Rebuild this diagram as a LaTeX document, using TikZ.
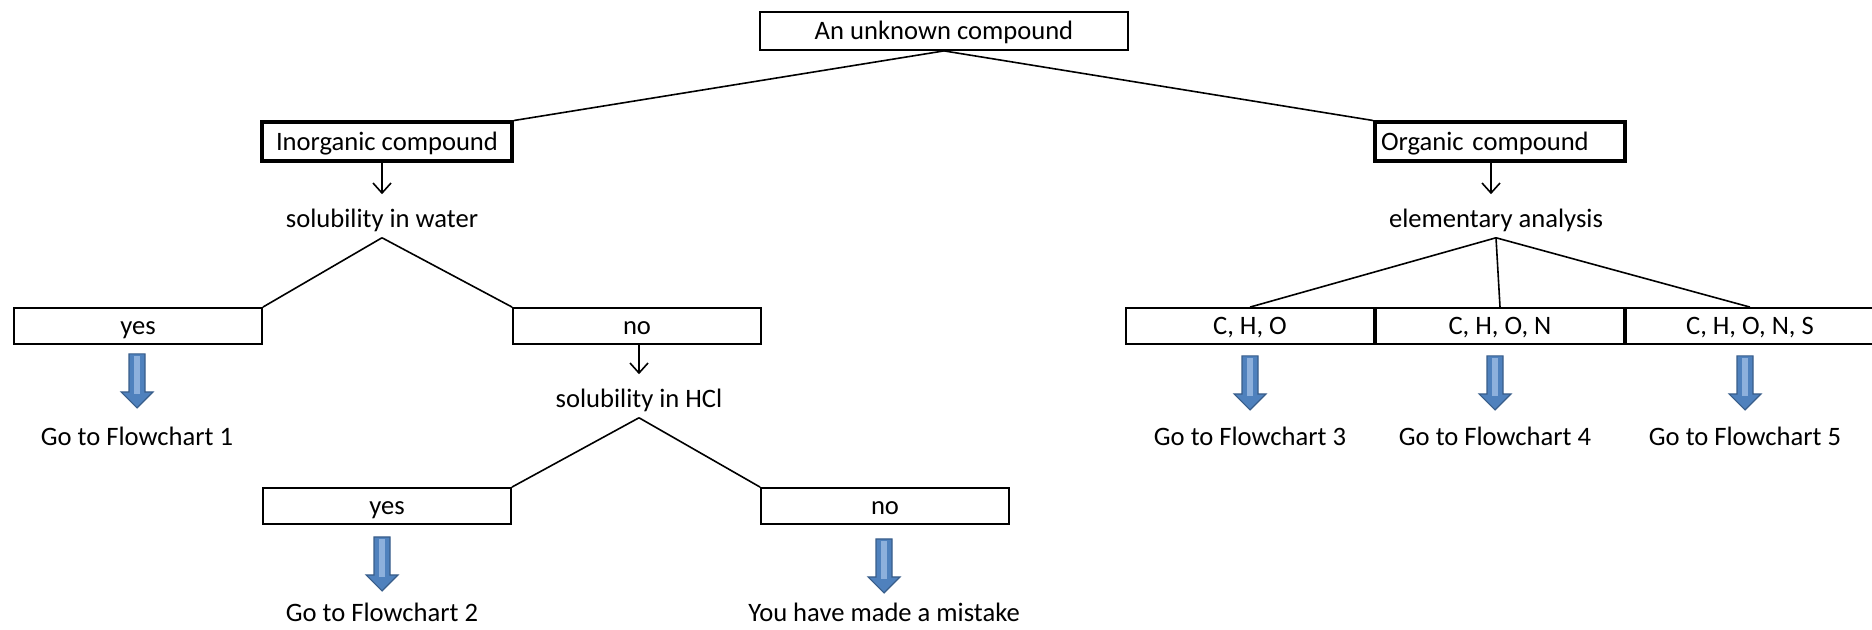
\documentclass[tikz,border=0pt]{standalone}
\usepackage{fontspec}
\setmainfont{Carlito}
\usetikzlibrary{arrows.meta}

\definecolor{arrowblue}{HTML}{4F81BD}
\definecolor{arrowedge}{HTML}{385D8A}
\definecolor{arrowlight}{HTML}{8DB0DC}

\tikzset{
    box/.style={draw, line width=0.9pt, minimum width=124pt, minimum height=18pt, inner sep=0pt,
        text height=10pt, text depth=1.5pt},
    thickbox/.style={draw, line width=2pt, minimum width=125pt, minimum height=19.5pt, inner sep=0pt,
        text height=10pt, text depth=1.5pt},
    txt/.style={inner sep=3pt},
    link/.style={line width=0.8pt},
    smallarrow/.style={line width=0.8pt, -{Straight Barb[length=5pt,width=9pt]}, shorten >=4pt},
    fat/.pic={
        \filldraw[fill=arrowblue, draw=arrowedge, line width=0.6pt]
            (-8,0) -- (8,0) -- (8,38) -- (16,38) -- (0,54) -- (-16,38) -- (-8,38) -- cycle;
        \fill[arrowlight] (-3,2) rectangle (3,40);
    }
}

\begin{document}
\begin{tikzpicture}[x=0.5pt, y=-0.5pt, every node/.style={font=\fontsize{13.3}{16}\selectfont}]

    \useasboundingbox (0,0) rectangle (1872,630);

    \node[box, minimum width=184pt, minimum height=19pt] (top) at (944,31) {An unknown compound};

    \node[thickbox] (inorg) at (387,142) {Inorganic compound};
    \node[thickbox, text width=119pt, inner xsep=3pt, align=left] (org) at (1500,142) {Organic compound};

    \draw[link] (top.south) -- (inorg.north east);
    \draw[link] (top.south) -- (org.north west);

    % inorganic side
    \node[txt] (water) at (382,220) {solubility in water};
    \draw[smallarrow] (water.north |- inorg.south) -- (water.north);

    \node[box] (wyes) at (138,326) {yes};
    \node[box] (wno) at (637,326) {no};
    \draw[link] (water.south) -- (wyes.north east);
    \draw[link] (water.south) -- (wno.north west);

    \node[txt] (fc1) at (137,436) {Go to Flowchart 1};
    \path (fc1 |- wyes.south) ++(0,9) pic {fat};

    \node[txt] (hcl) at (639,400) {solubility in HCl};
    \draw[smallarrow] (hcl.north |- wno.south) -- (hcl.north);

    \node[box] (hyes) at (387,506) {yes};
    \node[box] (hno) at (885,506) {no};
    \draw[link] (hcl.south) -- (hyes.north east);
    \draw[link] (hcl.south) -- (hno.north west);

    \node[txt] (fc2) at (382,612) {Go to Flowchart 2};
    \node[txt] (mistake) at (884,612) {You have made a mistake};
    \path (fc2 |- hyes.south) ++(0,12) pic {fat};
    \path (mistake |- hno.south) ++(0,14) pic {fat};

    % organic side
    \node[txt] (analysis) at (1496,220) {elementary analysis};
    \draw[smallarrow] (1491,162) -- (analysis.north -| 1491,0);

    \node[box] (cho) at (1250,326) {C, H, O};
    \node[box] (chon) at (1500,326) {C, H, O, N};
    \node[box] (chons) at (1750,326) {C, H, O, N, S};
    \draw[link] (analysis.south) -- (cho.north);
    \draw[link] (analysis.south) -- (chon.north);
    \draw[link] (analysis.south) -- (chons.north);

    \node[txt] (fc3) at (1250,436) {Go to Flowchart 3};
    \node[txt] (fc4) at (1495,436) {Go to Flowchart 4};
    \node[txt] (fc5) at (1745,436) {Go to Flowchart 5};
    \path (fc3 |- cho.south) ++(0,11) pic {fat};
    \path (fc4 |- chon.south) ++(0,11) pic {fat};
    \path (fc5 |- chons.south) ++(0,11) pic {fat};

\end{tikzpicture}
\end{document}
